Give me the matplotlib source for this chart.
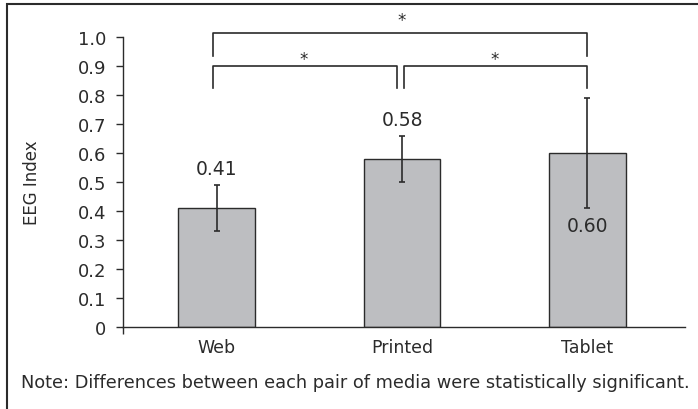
import matplotlib.pyplot as plt
from matplotlib.patches import Rectangle

# Data
media = ["Web", "Printed", "Tablet"]
eeg_index = [0.41, 0.58, 0.60]
eeg_error = [0.08, 0.08, 0.19]
value_labels = ["0.41", "0.58", "0.60"]
y_ticks = [0, 0.1, 0.2, 0.3, 0.4, 0.5, 0.6, 0.7, 0.8, 0.9, 1.0]
y_tick_labels = ["0", "0.1", "0.2", "0.3", "0.4", "0.5", "0.6", "0.7", "0.8", "0.9", "1.0"]
note = "Note: Differences between each pair of media were statistically significant."

# Styles
plt.rcParams["font.family"] = ["DejaVu Sans"]
DARK = "#2b2b2b"
BAR_COLOR = "#bdbec1"

fig = plt.figure(figsize=(6.98, 4.10), dpi=100)
ax = fig.add_axes([0.1758, 0.2, 0.8056, 0.7073])

x = list(range(len(media)))
ax.bar(x, eeg_index, width=0.415, color=BAR_COLOR, edgecolor=DARK, linewidth=1.0, zorder=2)
ax.errorbar(x, eeg_index, yerr=eeg_error, fmt="none", ecolor=DARK,
            elinewidth=1.2, capsize=2.5, capthick=1.2, zorder=3)

# Value labels: first two above the error bar, last inside the bar
for i in range(len(media)):
    if i < 2:
        y_lab = eeg_index[i] + eeg_error[i] + 0.055
    else:
        y_lab = eeg_index[i] - 0.25
    ax.text(x[i], y_lab, value_labels[i], ha="center", va="center",
            fontsize=13.5, color=DARK)

# Significance brackets
def bracket(x0, x1, y_top, y_leg, star_x, star_y):
    ax.plot([x0, x0, x1, x1], [y_leg, y_top, y_top, y_leg], color=DARK,
            linewidth=1.2, clip_on=False, zorder=4)
    ax.text(star_x, star_y, "*", ha="center", va="center", fontsize=12,
            color=DARK, clip_on=False)

bracket(-0.02, 2.0, 1.014, 0.935, 1.0, 1.06)
bracket(-0.02, 0.975, 0.90, 0.824, 0.47, 0.925)
bracket(1.01, 2.0, 0.90, 0.824, 1.5, 0.925)

# Axes
ax.set_xlim(-0.506, 2.526)
ax.set_ylim(0, 1.0)
ax.set_yticks(y_ticks)
ax.set_yticklabels(y_tick_labels)
ax.set_xticks(x)
ax.set_xticklabels(media)
ax.set_xticks([-0.506], minor=True)
ax.tick_params(axis="x", which="major", length=0, pad=8, labelsize=12.5, colors=DARK)
ax.tick_params(axis="x", which="minor", length=5, width=1.0, color=DARK, direction="out")
ax.tick_params(axis="y", length=5, width=1.0, pad=7, labelsize=13, colors=DARK)
for side in ["top", "right"]:
    ax.spines[side].set_visible(False)
for side in ["left", "bottom"]:
    ax.spines[side].set_color(DARK)
    ax.spines[side].set_linewidth(1.0)
ax.set_ylabel("EEG Index", fontsize=12, color=DARK)
ax.yaxis.set_label_coords(-0.145, 0.5)

# Note and outer frame
fig.text(0.0305, 0.066, note, ha="left", va="center", fontsize=12.8, color=DARK)
fig.patches.append(Rectangle((0.01, -0.1), 1.2, 1.088, transform=fig.transFigure,
                             fill=False, edgecolor=DARK, linewidth=1.5))

plt.savefig("out.png", dpi=100)
